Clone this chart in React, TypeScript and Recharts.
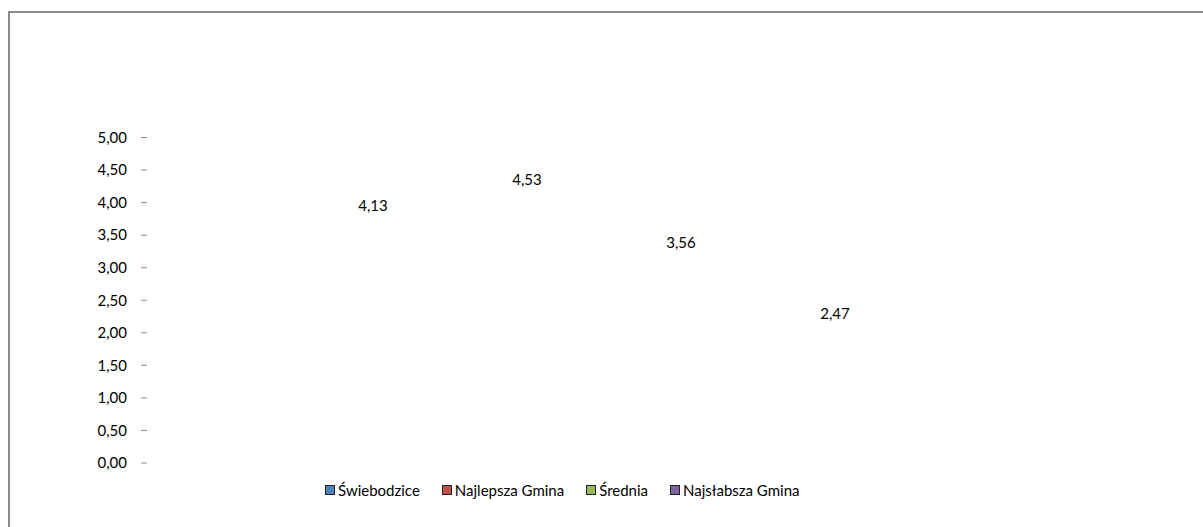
import React from "react";
import { BarChart, Bar, XAxis, YAxis, Legend, LabelList } from "recharts";

const categories = ["Ocena"];
const seriesNames = ["Świebodzice", "Najlepsza Gmina", "Średnia", "Najsłabsza Gmina"];
const seriesKeys = ["swiebodzice", "najlepsza", "srednia", "najslabsza"];
const seriesValues = [4.13, 4.53, 3.56, 2.47];
const seriesColors = ["#4F81BD", "#C0504D", "#9BBB59", "#8064A2"];
const yTicks = [0, 0.5, 1, 1.5, 2, 2.5, 3, 3.5, 4, 4.5, 5];

const data = categories.map((c) => {
  const row: Record<string, any> = { name: c };
  seriesKeys.forEach((k, i) => {
    row[k] = seriesValues[i];
  });
  return row;
});

const FONT = "Lato, 'Open Sans', sans-serif";
const fmt = (v: number) => v.toFixed(2).replace(".", ",");

const ValueLabel = (props: any) => {
  const { x, y, width, value } = props;
  return (
    <text
      x={x + width / 2}
      y={y + 10.5}
      textAnchor="middle"
      dominantBaseline="central"
      fontFamily={FONT}
      fontSize={15}
      fill="#000"
    >
      {fmt(value)}
    </text>
  );
};

const LegendContent = () => (
  <div
    style={{
      display: "flex",
      justifyContent: "flex-start",
      alignItems: "center",
      fontFamily: FONT,
      fontSize: 15,
      color: "#000",
      paddingLeft: 315,
      whiteSpace: "nowrap",
    }}
  >
    {seriesNames.map((n, i) => (
      <div key={n} style={{ display: "flex", alignItems: "center", marginRight: i < 3 ? 22 : 0 }}>
        <span
          style={{
            display: "inline-block",
            width: 8,
            height: 8,
            background: seriesColors[i],
            border: "1px solid #222",
            marginRight: 3,
          }}
        />
        <span>{n}</span>
      </div>
    ))}
  </div>
);

export default function App() {
  return (
    <div
      style={{
        position: "fixed",
        top: 11,
        left: 8,
        width: 1195,
        height: 516,
        borderLeft: "2px solid #8c8c8c",
        borderTop: "2px solid #8c8c8c",
        boxSizing: "border-box",
        overflow: "hidden",
        background: "#fff",
      }}
    >
      <BarChart
        width={1193}
        height={506}
        data={data}
        margin={{ top: 124.5, right: 142, bottom: 36, left: 0 }}
        barCategoryGap="16.3%"
        barGap={0}
      >
        <XAxis dataKey="name" hide />
        <YAxis
          width={137}
          domain={[0, 5]}
          ticks={yTicks}
          interval={0}
          axisLine={false}
          tickLine={{ stroke: "#8c8c8c" }}
          tickSize={6}
          tickMargin={14}
          tickFormatter={fmt}
          tick={{ fontFamily: FONT, fontSize: 15, fill: "#000" }}
        />
        <Legend
          verticalAlign="bottom"
          content={<LegendContent />}
          wrapperStyle={{ top: 468, left: 0, width: 1193, height: 20 }}
        />
        {seriesKeys.map((k, i) => (
          <Bar
            key={k}
            dataKey={k}
            name={seriesNames[i]}
            fill={seriesColors[i]}
            fillOpacity={0}
            isAnimationActive={false}
          >
            <LabelList dataKey={k} content={<ValueLabel />} />
          </Bar>
        ))}
      </BarChart>
    </div>
  );
}
